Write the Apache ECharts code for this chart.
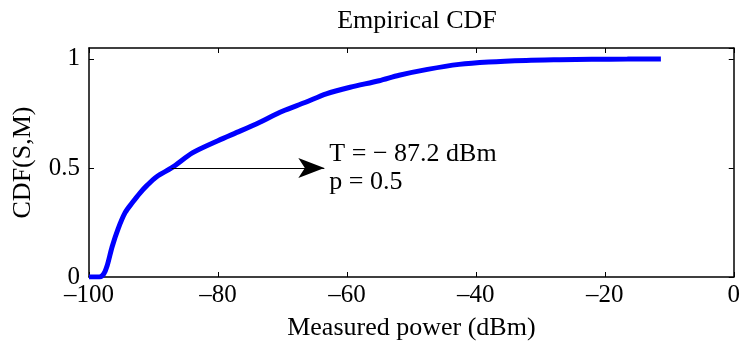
<!DOCTYPE html>
<html>
<head>
<meta charset="utf-8">
<script src="https://cdn.jsdelivr.net/npm/echarts@6/dist/echarts.min.js"></script>
<style>
  html, body { margin: 0; padding: 0; background: #fff; }
  #chart { width: 743px; height: 346px; }
</style>
</head>
<body>
<div id="chart"></div>
<script>
// Measured received power (dBm) and its empirical CDF
const powerDbm = [-100, -98.4, -97.7, -97.2, -96.4, -95.5, -94.4, -93.3, -92.1, -91.0, -89.5, -87.2, -83.9, -80.0, -76.5, -73.5, -70.0, -66.5, -63.2, -59.5, -55.0, -51.9, -47.5, -42.6, -38.0, -32.2, -27.0, -22.0, -16.5, -11.3];
const cdfValues = [0, 0, 0.015, 0.05, 0.14, 0.22, 0.295, 0.34, 0.385, 0.42, 0.46, 0.50, 0.57, 0.625, 0.67, 0.71, 0.76, 0.80, 0.84, 0.87, 0.90, 0.925, 0.952, 0.975, 0.986, 0.993, 0.996, 0.998, 0.999, 1.0];

const xTicks = [-100, -80, -60, -40, -20, 0];
const yTicks = [0, 0.5, 1];

// Threshold annotation
const threshold = { x: -87.2, p: 0.5, arrowEnd: -63.5 };
const annotationText = 'T = \u2212 87.2 dBm\np = 0.5';

const FONT = 'Liberation Serif';

const chart = echarts.init(document.getElementById('chart'), null, { renderer: 'canvas' });

const baseAxis = {
  axisLine: { show: true, onZero: false, lineStyle: { color: '#000', width: 1.5 } },
  axisTick: { show: true, inside: true, length: 5, lineStyle: { color: '#000', width: 1 } },
  splitLine: { show: false }
};

chart.setOption({
  animation: false,
  title: {
    text: 'Empirical CDF',
    left: 412, top: 3, textAlign: 'center',
    textStyle: { fontFamily: FONT, fontSize: 26, fontWeight: 'normal', color: '#000' }
  },
  grid: { left: 89, right: 8, top: 48, bottom: 68 },
  xAxis: [
    Object.assign({}, baseAxis, {
      type: 'value', min: -100, max: 0, interval: 20, position: 'bottom',
      name: 'Measured power (dBm)', nameLocation: 'middle', nameGap: 38,
      nameTextStyle: { fontFamily: FONT, fontSize: 26, color: '#000' },
      axisLabel: {
        fontFamily: FONT, fontSize: 25, color: '#000', margin: 6,
        formatter: v => xTicks.includes(v) ? String(v).replace('-', '\u2013') : ''
      }
    }),
    Object.assign({}, baseAxis, {
      type: 'value', min: -100, max: 0, interval: 20, position: 'top',
      axisLabel: { show: false }
    })
  ],
  yAxis: [
    Object.assign({}, baseAxis, {
      type: 'value', min: 0, max: 1.05, interval: 0.5, position: 'left',
      name: 'CDF(S,M)', nameLocation: 'middle', nameGap: 53,
      nameTextStyle: { fontFamily: FONT, fontSize: 26, color: '#000' },
      axisLabel: {
        fontFamily: FONT, fontSize: 25, color: '#000', margin: 9,
        showMaxLabel: false,
        formatter: v => yTicks.includes(v) ? String(v) : ''
      }
    }),
    Object.assign({}, baseAxis, {
      type: 'value', min: 0, max: 1.05, interval: 0.5, position: 'right',
      axisLabel: { show: false }
    })
  ],
  series: [
    {
      type: 'line',
      data: powerDbm.map((x, i) => [x, cdfValues[i]]),
      smooth: 0.3,
      showSymbol: false,
      lineStyle: { color: '#0000ff', width: 5 },
      z: 3,
      markLine: {
        silent: true,
        symbol: ['none', 'arrow'],
        symbolSize: [15, 26],
        label: { show: false },
        lineStyle: { color: '#000', width: 1.2, type: 'solid' },
        itemStyle: { color: '#000' },
        data: [[
          { coord: [threshold.x, threshold.p] },
          { coord: [threshold.arrowEnd, threshold.p] }
        ]]
      }
    },
    {
      type: 'scatter',
      data: [[threshold.arrowEnd, threshold.p]],
      symbolSize: 0,
      silent: true,
      itemStyle: { opacity: 1 },
      label: {
        show: true, position: 'right', distance: 5,
        formatter: annotationText,
        fontFamily: FONT, fontSize: 26, lineHeight: 28, color: '#000', opacity: 1
      }
    }
  ]
});
</script>
</body>
</html>
